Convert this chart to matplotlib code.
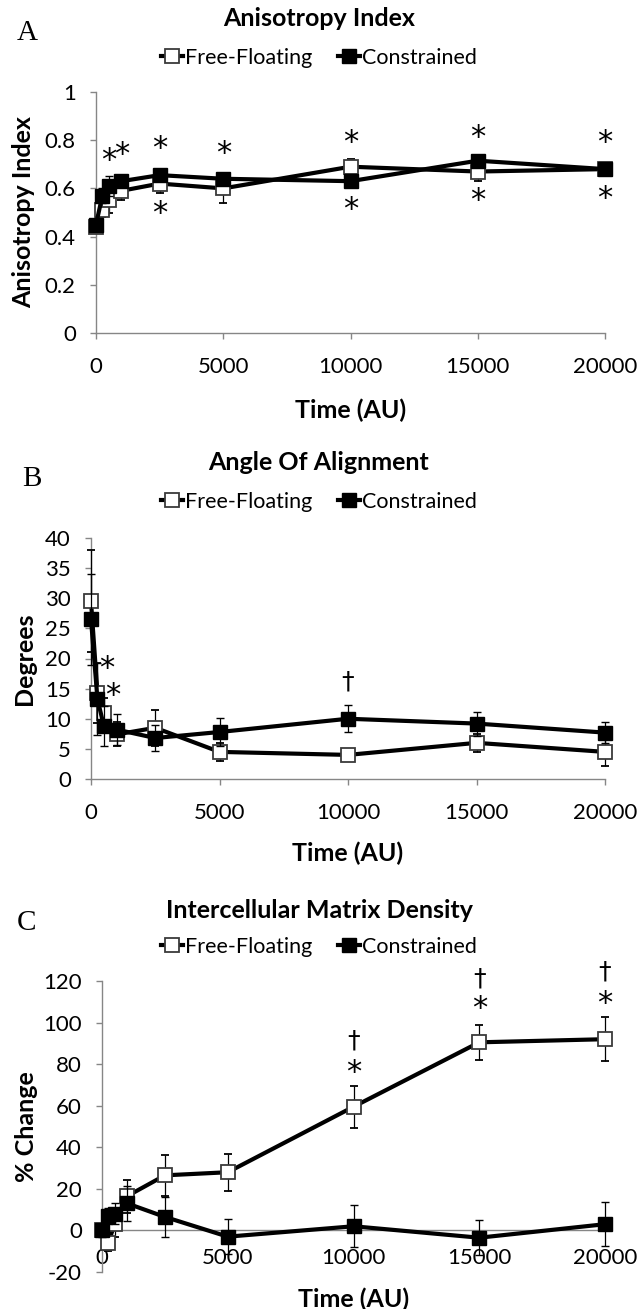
import matplotlib
matplotlib.use("Agg")
import matplotlib.pyplot as plt
from matplotlib.lines import Line2D

plt.rcParams['font.family'] = ['Lato', 'DejaVu Sans']

# ---------------- data ----------------
times = [0, 250, 500, 1000, 2500, 5000, 10000, 15000, 20000]
series_names = ["Free-Floating", "Constrained"]

aniso_ff = [0.44, 0.51, 0.55, 0.59, 0.62, 0.60, 0.69, 0.67, 0.68]
aniso_ff_err = [0.02, 0.03, 0.05, 0.04, 0.04, 0.06, 0.03, 0.04, 0.02]
aniso_con = [0.45, 0.57, 0.61, 0.63, 0.655, 0.64, 0.63, 0.715, 0.68]
aniso_con_err = [0.02, 0.03, 0.04, 0.02, 0.02, 0.02, 0.02, 0.02, 0.02]

deg_ff = [29.5, 14.3, 11.0, 7.4, 8.5, 4.5, 4.0, 6.0, 4.5]
deg_ff_err = [8.5, 5.0, 2.5, 2.0, 3.0, 1.5, 1.0, 1.5, 2.3]
deg_con = [26.5, 13.3, 8.8, 8.2, 6.8, 7.8, 10.0, 9.2, 7.7]
deg_con_err = [7.5, 6.0, 3.3, 2.6, 2.1, 2.4, 2.2, 2.0, 1.8]

dens_ff = [0, -6, 3, 16.5, 26.5, 28, 59.5, 90.5, 92]
dens_ff_err = [2, 4, 6, 8, 10, 9, 10, 8.5, 10.5]
dens_con = [0, 7, 8, 13, 6.5, -3, 2, -3.5, 3]
dens_con_err = [3, 4, 5, 8.5, 9.5, 8.5, 10, 8.5, 10.5]

# annotations: (x, y, symbol)
annot_a = [(500, 0.715, "*"), (1000, 0.74, "*"), (2500, 0.765, "*"), (2500, 0.495, "*"),
           (5000, 0.745, "*"), (10000, 0.79, "*"), (10000, 0.512, "*"),
           (15000, 0.81, "*"), (15000, 0.55, "*"), (20000, 0.79, "*"), (20000, 0.557, "*")]
annot_b = [(600, 18.4, "*"), (850, 13.9, "*"), (10000, 16.1, "\u2020")]
annot_c = [(10000, 91.2, "\u2020"), (10000, 75.8, "*"), (15000, 121, "\u2020"), (15000, 106.6, "*"),
           (20000, 124.8, "\u2020"), (20000, 109, "*")]

titles = ["Anisotropy Index", "Angle Of Alignment", "Intercellular Matrix Density"]
ylabels = ["Anisotropy Index", "Degrees", "% Change"]
letters = ["A", "B", "C"]
xticks = [0, 5000, 10000, 15000, 20000]
yticks_a = [0, 0.2, 0.4, 0.6, 0.8, 1]
yticks_b = [0, 5, 10, 15, 20, 25, 30, 35, 40]
yticks_c = [-20, 0, 20, 40, 60, 80, 100, 120]

# ---------------- layout ----------------
W, H = 644, 1309
fig = plt.figure(figsize=(W / 100, H / 100), dpi=100)


def fx(px):
    return px / W


def fy(py):
    return 1 - py / H


def add_ax(left, right, top, bottom):
    return fig.add_axes([fx(left), fy(bottom), (right - left) / W, (bottom - top) / H])


axA = add_ax(96, 605, 92, 333)
axB = add_ax(91, 605, 538, 779)
axC = add_ax(102, 605, 981, 1272)

GRAY = '#868686'
TICK_FS = 16
LEG_FS = 15.5
LAB_FS = 18


def draw(ax, ff, ffe, con, cone):
    ax.errorbar(times, ff, yerr=ffe, color='black', lw=3, marker='s', ms=10,
                mfc='white', mec='#3a3a3a', mew=1.3, ecolor='black',
                elinewidth=0.9, capsize=3, capthick=0.9, zorder=3, clip_on=False)
    ax.errorbar(times, con, yerr=cone, color='black', lw=3, marker='s', ms=10,
                mfc='black', mec='black', mew=1.0, ecolor='black',
                elinewidth=0.9, capsize=3, capthick=0.9, zorder=4, clip_on=False)


def style(ax, yticks, ylim):
    ax.set_xlim(0, 20000)
    ax.set_ylim(*ylim)
    ax.set_xticks(xticks)
    ax.set_xticklabels([str(t) for t in xticks])
    ax.set_yticks(yticks)
    ax.set_yticklabels([("%g" % t) for t in yticks])
    for s in ['top', 'right']:
        ax.spines[s].set_visible(False)
    for s in ['left', 'bottom']:
        ax.spines[s].set_color(GRAY)
        ax.spines[s].set_linewidth(1)
    ax.tick_params(axis='both', direction='out', length=4.5, width=1, color=GRAY,
                   labelsize=TICK_FS, labelcolor='black')
    ax.tick_params(axis='y', pad=10)
    ax.tick_params(axis='x', pad=13)


draw(axA, aniso_ff, aniso_ff_err, aniso_con, aniso_con_err)
style(axA, yticks_a, (0, 1))
draw(axB, deg_ff, deg_ff_err, deg_con, deg_con_err)
style(axB, yticks_b, (0, 40))
draw(axC, dens_ff, dens_ff_err, dens_con, dens_con_err)
style(axC, yticks_c, (-20, 120))
axC.spines['bottom'].set_visible(False)
axC.axhline(0, color=GRAY, lw=1, zorder=1)
axC.tick_params(axis='x', length=0, pad=-17)

# annotations
for ax, ann in [(axA, annot_a), (axB, annot_b), (axC, annot_c)]:
    for x, y, s in ann:
        if s == "*":
            ax.text(x, y, s, ha='center', va='center', fontsize=22,
                    family='DejaVu Sans', clip_on=False, zorder=6)
        else:
            ax.text(x, y, s, ha='center', va='center', fontsize=18,
                    family='DejaVu Sans', clip_on=False, zorder=6)

# axis labels
axes = [axA, axB, axC]
ylab_x = [24, 24, 26]
ylab_y = [(92 + 333) / 2, (538 + 779) / 2, (981 + 1272) / 2]
xlab_y = [410, 853, 1299]
for ax, yl, yx, yy, xy in zip(axes, ylabels, ylab_x, ylab_y, xlab_y):
    ax.set_ylabel(yl, fontsize=LAB_FS, fontweight='bold')
    ax.yaxis.set_label_coords(fx(yx), fy(yy), transform=fig.transFigure)
    ax.yaxis.label.set_verticalalignment('center')
    ax.set_xlabel("Time (AU)", fontsize=LAB_FS, fontweight='bold')
    bb = ax.get_position()
    ax.xaxis.set_label_coords((bb.x0 + bb.x1) / 2, fy(xy), transform=fig.transFigure)
    ax.xaxis.label.set_verticalalignment('center')

# titles, letters, legends
title_y = [18, 463, 910]
letter_pos = [(27, 33), (32, 479), (26, 923)]
legend_y = [58, 502, 947]

handles = [
    Line2D([], [], color='black', lw=3, marker='s', ms=10, mfc='white', mec='#3a3a3a', mew=1.3),
    Line2D([], [], color='black', lw=3, marker='s', ms=10, mfc='black', mec='black'),
]

for i, (t, ty, (lx, ly), gy) in enumerate(zip(titles, title_y, letter_pos, legend_y)):
    fig.text(fx(319), fy(ty), t, ha='center', va='center', fontsize=LAB_FS, fontweight='bold')
    fig.text(fx(lx), fy(ly), letters[i], ha='center', va='center',
             fontsize=21, family='Liberation Serif')
    fig.legend(handles, series_names, loc='center', bbox_to_anchor=(fx(319), fy(gy)),
               ncol=2, frameon=False, fontsize=LEG_FS, handlelength=1.0,
               handletextpad=0.1, columnspacing=1.2, borderpad=0, borderaxespad=0)

fig.savefig("out.png", dpi=100)
